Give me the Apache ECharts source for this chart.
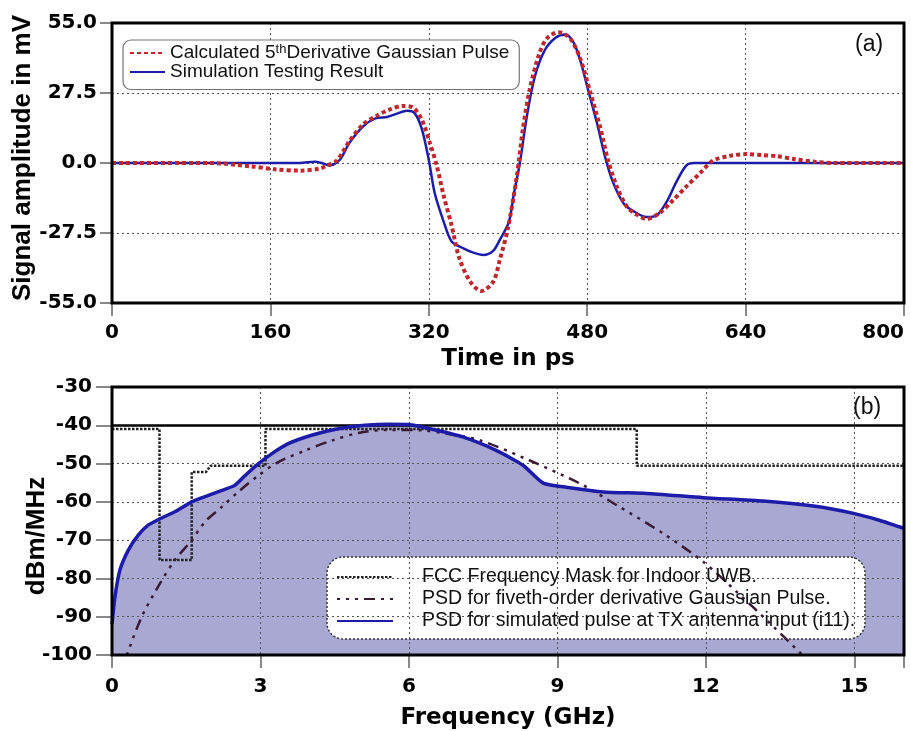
<!DOCTYPE html>
<html>
<head>
<meta charset="utf-8">
<script src="https://cdn.jsdelivr.net/npm/echarts@6/dist/echarts.min.js"></script>
<style>
  html, body { margin: 0; padding: 0; background: #fff; }
  #chart { width: 911px; height: 731px; }
</style>
</head>
<body>
<div id="chart"></div>
<script>
// (a) time domain pulse
const calcTime = [0, 100, 140, 165, 190, 210, 217, 227, 240, 254, 267, 281, 294, 304, 313, 321, 328, 335, 343, 351, 362, 373, 385, 392, 400, 409, 415, 422, 431, 439, 451, 463, 473, 483, 493, 501, 510, 520, 530, 540, 553, 567, 580, 594, 607, 624, 641, 658, 671, 690, 710, 730, 800];
const calcAmp = [0, 0, -1.3, -2.5, -3.0, -2.2, -1, 0.9, 8.7, 15.3, 18.5, 21.1, 22.4, 21.8, 17, 8, -1, -12.8, -24.5, -37.6, -46.7, -50.3, -46.7, -37.6, -25.5, -5.0, 13.3, 29, 42.3, 48.8, 51.4, 48.8, 41, 27.9, 14.2, 1.2, -9.3, -17.1, -20.3, -22, -19.7, -14.5, -9.3, -4, 0.9, 2.8, 3.5, 3.1, 2.7, 1.5, 0.5, 0, 0];
const simTime = [0, 190, 205, 212, 220, 230, 240, 254, 266, 278, 288, 298, 306, 313, 320, 326, 335, 343, 355, 365, 375, 385, 392, 401, 406, 412, 419, 427, 437, 448, 458, 466, 473, 481, 490, 498, 506, 517, 527, 540, 550, 560, 570, 580, 588, 600, 800];
const simAmp = [0, 0, 0.5, 0, -1, 1.2, 8, 14.5, 17.5, 18.1, 19.4, 20.5, 19.4, 13.3, 1.2, -11.9, -23, -30.8, -33.5, -35.2, -36.1, -34.5, -30, -23, -12, 0, 18.3, 33.8, 44.2, 49.2, 50.5, 47.5, 40.3, 28.6, 15.5, 2.5, -7.5, -16, -19, -21.2, -20.6, -15.4, -7.5, -1, 0, 0, 0];

// (b) power spectral density
const maskFreq = [0, 0.96, 0.96, 1.61, 1.61, 1.9, 1.99, 3.1, 3.1, 10.6, 10.6, 16];
const maskLevel = [-41, -41, -75.2, -75.2, -52.2, -52.2, -50.6, -50.6, -41, -41, -50.6, -50.6];
const gaussFreq = [0.3, 0.6, 0.97, 1.27, 1.61, 1.88, 2.22, 2.55, 2.96, 3.36, 3.9, 4.44, 4.98, 5.58, 6.26, 6.8, 7.43, 8.44, 9.45, 10.2, 11.14, 11.95, 12.62, 13.29, 13.95];
const gaussPsd = [-100, -90, -81.3, -75.2, -70, -65.2, -61.3, -57.4, -53.1, -49.6, -46.6, -44, -42, -41.2, -41.3, -42.3, -43.9, -49.2, -55.2, -60.9, -68.3, -75.7, -83.5, -91.7, -100];
const simFreq = [0, 0.06, 0.16, 0.33, 0.53, 0.73, 0.97, 1.27, 1.61, 1.95, 2.22, 2.48, 2.69, 2.96, 3.23, 3.56, 4.03, 4.57, 5.11, 5.6, 6.0, 6.42, 7.1, 7.77, 8.31, 8.71, 9.25, 9.93, 10.8, 11.95, 13.16, 14.17, 14.98, 15.5, 16];
const simPsd = [-92, -84.8, -77.8, -72.6, -68.7, -66.1, -64.4, -62.6, -60, -58.3, -57, -55.7, -53.1, -50, -47.4, -44.8, -42.6, -40.9, -40, -39.7, -39.8, -40.9, -43.1, -46.6, -50.5, -55.1, -56.3, -57.4, -57.8, -58.9, -59.8, -61.1, -63, -64.8, -66.9];

const timeTicks = [0, 800, 160];
const ampTicks = [-55, 55, 27.5];
const freqTicks = [0, 16, 3];
const psdTicks = [-100, -30, 10];

const pairs = (xs, ys) => xs.map((x, i) => [x, ys[i]]);

const tickFont = { color: "#000", fontFamily: "DejaVu Sans", fontWeight: "bold", fontSize: 20 };
const nameFont = { color: "#000", fontFamily: "DejaVu Sans", fontWeight: "bold", fontSize: 23 };
const grayDots = { show: true, lineStyle: { color: "#555", type: [2, 3], width: 1 } };

const names = {
  calc: "Calculated 5th Derivative Gaussian Pulse",
  sim: "Simulation Testing Result",
  mask: "FCC Frequency Mask for Indoor UWB.",
  gauss: "PSD for fiveth-order derivative Gaussian Pulse.",
  psd: "PSD for simulated pulse at TX antenna input (i11).",
};

const chart = echarts.init(document.getElementById("chart"));

const option = {
  animation: false,
  backgroundColor: "#fff",
  grid: [
    { left: 112, top: 23, right: 7, height: 280, outerBoundsMode: "none", show: true, borderColor: "#000", borderWidth: 3, z: 10 },
    { left: 112, top: 387, right: 7, height: 268, outerBoundsMode: "none", show: true, borderColor: "#000", borderWidth: 3, z: 10 },
  ],
  xAxis: [
    {
      gridIndex: 0, type: "value", min: timeTicks[0], max: timeTicks[1], interval: timeTicks[2], z: 3,
      name: "Time in ps", nameLocation: "middle", nameGap: 45, nameMoveOverlap: false, nameTextStyle: nameFont,
      axisLine: { show: false, onZero: false },
      axisTick: { length: 13, lineStyle: { color: "#888", width: 2 } },
      axisLabel: Object.assign({ margin: 20, alignMaxLabel: "right" }, tickFont),
      splitLine: grayDots,
    },
    {
      gridIndex: 1, type: "value", min: freqTicks[0], max: freqTicks[1], interval: freqTicks[2], z: 3,
      name: "Frequency (GHz)", nameLocation: "middle", nameGap: 52, nameMoveOverlap: false, nameTextStyle: nameFont,
      axisLine: { show: false, onZero: false },
      axisTick: { length: 13, lineStyle: { color: "#888", width: 2 } },
      axisLabel: Object.assign({ margin: 22, formatter: (v) => (v % 3 === 0 ? String(v) : "") }, tickFont),
      splitLine: grayDots,
    },
  ],
  yAxis: [
    {
      gridIndex: 0, type: "value", min: ampTicks[0], max: ampTicks[1], interval: ampTicks[2], z: 3,
      name: "Signal amplitude in mV", nameLocation: "middle", nameGap: 76, nameMoveOverlap: false,
      nameTextStyle: { color: "#000", fontFamily: "Liberation Sans", fontWeight: "bold", fontSize: 26, padding: [0, 0, 0, 10] },
      axisLine: { show: false, onZero: false },
      axisTick: { length: 12, lineStyle: { color: "#888", width: 2 } },
      axisLabel: Object.assign({ margin: 15, formatter: (v) => v.toFixed(1) }, tickFont),
      splitLine: grayDots,
    },
    {
      gridIndex: 1, type: "value", min: psdTicks[0], max: psdTicks[1], interval: psdTicks[2], z: 3,
      name: "dBm/MHz", nameLocation: "middle", nameGap: 62, nameMoveOverlap: false,
      nameTextStyle: { color: "#000", fontFamily: "Liberation Sans", fontWeight: "bold", fontSize: 26, padding: [0, 30, 0, 0] },
      axisLine: { show: false, onZero: false },
      axisTick: { length: 16, lineStyle: { color: "#888", width: 2 } },
      axisLabel: Object.assign({ margin: 20 }, tickFont),
      splitLine: grayDots,
    },
  ],
  legend: [
    {
      data: [names.calc, names.sim],
      orient: "vertical", left: 123, top: 40, z: 12,
      padding: [3, 10, 8, 6], itemGap: 0, itemWidth: 35, itemHeight: 14,
      itemStyle: { opacity: 0 },
      backgroundColor: "#fff", borderColor: "#777", borderWidth: 1.2, borderRadius: 8,
      formatter: (n) => (n === names.calc ? "{t|Calculated 5}{s|th}{t|Derivative Gaussian Pulse}" : "{t|" + n + "}"),
      textStyle: {
        color: "#111",
        rich: {
          t: { fontFamily: "Liberation Sans", fontSize: 19, lineHeight: 20 },
          s: { fontFamily: "Liberation Sans", fontSize: 13, lineHeight: 20, verticalAlign: "top" },
        },
      },
    },
    {
      data: [names.mask, names.gauss, names.psd],
      orient: "vertical", left: 336, top: 566, z: 12,
      padding: 0, itemGap: 0, itemWidth: 56, itemHeight: 14,
      itemStyle: { opacity: 0 },
      textStyle: { color: "#111", fontFamily: "Liberation Sans", fontSize: 19.5, lineHeight: 22, padding: [0, 0, 0, 24] },
    },
  ],
  graphic: [
    { type: "text", left: 855, top: 33, z: 12, style: { text: "(a)", font: "23px Liberation Sans", fill: "#111" } },
    { type: "text", left: 853, top: 396, z: 12, style: { text: "(b)", font: "23px Liberation Sans", fill: "#111" } },
    {
      type: "rect", z: 2, shape: { x: 327, y: 557, width: 538, height: 82, r: 16 },
      style: { fill: "#fff", stroke: "#333", lineWidth: 1.5, lineDash: [2, 2] },
    },
  ],
  series: [
    {
      name: names.sim, type: "line", xAxisIndex: 0, yAxisIndex: 0, z: 4,
      data: pairs(simTime, simAmp), symbol: "none", smooth: 0.3,
      lineStyle: { color: "#1c1ca8", width: 2.5 }, itemStyle: { color: "#1c1ca8" },
    },
    {
      name: names.calc, type: "line", xAxisIndex: 0, yAxisIndex: 0, z: 5,
      data: pairs(calcTime, calcAmp), symbol: "none", smooth: 0.3,
      lineStyle: { color: "#c0272d", width: 4, type: [4, 3] }, itemStyle: { color: "#c0272d" },
    },
    {
      name: "psdFill", type: "line", xAxisIndex: 1, yAxisIndex: 1, z: 1,
      data: pairs(simFreq, simPsd), symbol: "none", smooth: 0.2,
      lineStyle: { width: 0 }, areaStyle: { color: "#a8a8d3", opacity: 1, origin: "start" },
      silent: true,
    },
    {
      name: names.mask, type: "line", xAxisIndex: 1, yAxisIndex: 1, z: 4,
      data: pairs(maskFreq, maskLevel), symbol: "none",
      lineStyle: { color: "#222", width: 2.5, type: [2.5, 1.5] }, itemStyle: { color: "#222" },
      markLine: {
        silent: true, symbol: "none", label: { show: false },
        lineStyle: { color: "#000", width: 2.5, type: "solid" },
        data: [{ yAxis: -40 }],
      },
    },
    {
      name: names.gauss, type: "line", xAxisIndex: 1, yAxisIndex: 1, z: 5,
      data: pairs(gaussFreq, gaussPsd), symbol: "none", smooth: 0.3,
      lineStyle: { color: "#3b1a33", width: 2.5, type: [3, 6, 3, 6, 3, 6, 11, 6] }, itemStyle: { color: "#3b1a33" },
    },
    {
      name: names.psd, type: "line", xAxisIndex: 1, yAxisIndex: 1, z: 5,
      data: pairs(simFreq, simPsd), symbol: "none", smooth: 0.2,
      lineStyle: { color: "#1c1ca8", width: 3.5 }, itemStyle: { color: "#1c1ca8" },
    },
  ],
};

chart.setOption(option);
</script>
</body>
</html>
